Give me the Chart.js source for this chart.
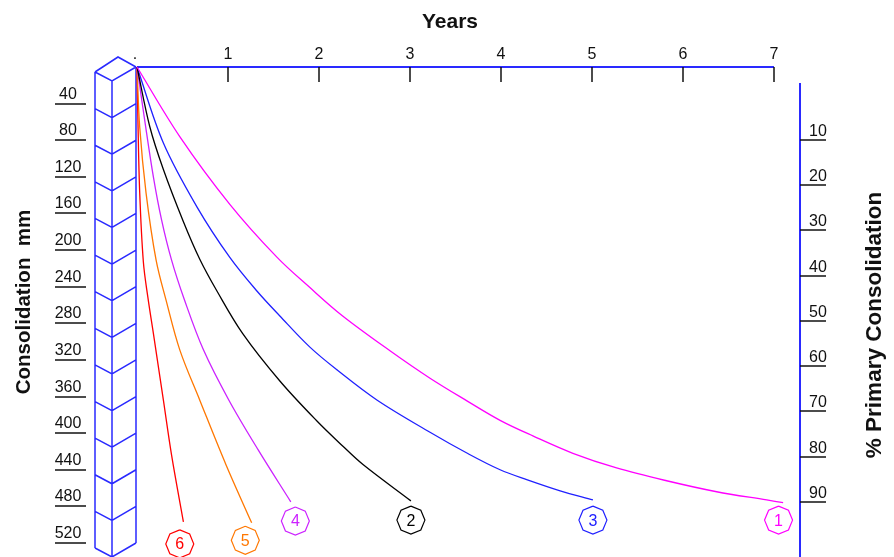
<!DOCTYPE html>
<html>
<head>
<meta charset="utf-8">
<script src="https://cdn.jsdelivr.net/npm/chart.js@4"></script>
<style>
  body { margin: 0; background: #fff; }
  canvas { display: block; }
</style>
</head>
<body>
<canvas id="consol" width="894" height="557"></canvas>
<script>
// tick labels
const yearTicks = [0, 1, 2, 3, 4, 5, 6, 7];
const yearLabels = ['.', '1', '2', '3', '4', '5', '6', '7'];
const mmTicks = [40, 80, 120, 160, 200, 240, 280, 320, 360, 400, 440, 480, 520];
const columnLevels = [0, 40, 80, 120, 160, 200, 240, 280, 320, 360, 400, 440, 480, 520];
const pctTicks = [10, 20, 30, 40, 50, 60, 70, 80, 90];

// curves: years vs consolidation (mm)
const c1Years = [0, 0.47, 1.02, 1.54, 1.90, 2.26, 2.78, 3.22, 3.63, 3.99, 4.35, 4.79, 5.27, 5.82, 6.37, 6.92, 7.10];
const c1Mm    = [0, 76, 150, 208, 241, 272, 310, 340, 365, 386, 403, 422, 438, 452, 464, 473, 476];
const c2Years = [0, 0.14, 0.29, 0.51, 0.69, 0.88, 1.16, 1.57, 1.98, 2.26, 2.48, 3.01];
const c2Mm    = [0, 65, 112, 169, 210, 245, 291, 343, 387, 414, 434, 474];
const c3Years = [0, 0.29, 0.66, 1.02, 1.32, 1.57, 1.90, 2.20, 2.64, 3.22, 3.63, 3.99, 4.29, 4.65, 5.01];
const c3Mm    = [0, 83, 153, 208, 245, 272, 306, 331, 364, 399, 422, 440, 451, 463, 473];
const c4Years = [0, 0.08, 0.18, 0.27, 0.38, 0.52, 0.73, 1.01, 1.33, 1.69];
const c4Mm    = [0, 55, 120, 167, 211, 254, 309, 364, 418, 475];
const c5Years = [0, 0.03, 0.10, 0.21, 0.32, 0.47, 0.69, 0.98, 1.26];
const c5Mm    = [0, 66, 138, 211, 255, 309, 364, 435, 498];
const c6Years = [0, 0.01, 0.03, 0.07, 0.12, 0.18, 0.29, 0.38, 0.51];
const c6Mm    = [0, 58, 138, 213, 252, 291, 364, 424, 497];

// circled curve labels
const labelText  = ['1', '2', '3', '4', '5', '6'];
const labelYears = [7.05, 3.01, 5.01, 1.74, 1.19, 0.47];
const labelMm    = [495, 495, 495, 496, 517, 521];
const curveColors = ['#ff00ff', '#000000', '#2020ff', '#cc22ff', '#ff7700', '#ff0000'];

const AXIS_BLUE = '#2a2aff';

function pts(xs, ys) { return xs.map((x, i) => ({ x: x, y: ys[i] })); }
const curves = [pts(c1Years, c1Mm), pts(c2Years, c2Mm), pts(c3Years, c3Mm),
                pts(c4Years, c4Mm), pts(c5Years, c5Mm), pts(c6Years, c6Mm)];

const decor = {
  id: 'decor',
  beforeDatasetsDraw(chart) {
    const ctx = chart.ctx;
    const xs = chart.scales.x, ys = chart.scales.y, ps = chart.scales.y2;
    const x0 = xs.getPixelForValue(0);
    const yTop = ys.getPixelForValue(0);
    ctx.save();

    // top years axis
    ctx.strokeStyle = AXIS_BLUE; ctx.lineWidth = 2;
    ctx.beginPath(); ctx.moveTo(x0, yTop); ctx.lineTo(xs.getPixelForValue(7), yTop); ctx.stroke();
    ctx.strokeStyle = '#111'; ctx.lineWidth = 1.5;
    ctx.fillStyle = '#111'; ctx.font = '16px "Liberation Sans", Arial, sans-serif';
    ctx.textAlign = 'center'; ctx.textBaseline = 'alphabetic';
    yearTicks.forEach((v, i) => {
      const px = Math.round(xs.getPixelForValue(v));
      if (v > 0) { ctx.beginPath(); ctx.moveTo(px, yTop); ctx.lineTo(px, yTop + 15); ctx.stroke(); }
      ctx.fillText(yearLabels[i], px - (v === 0 ? 2 : 0), 59);
    });
    ctx.font = 'bold 21px "Liberation Sans", Arial, sans-serif';
    ctx.fillText('Years', 450, 28);

    // right % axis
    const xr = 800;
    ctx.strokeStyle = AXIS_BLUE; ctx.lineWidth = 2;
    ctx.beginPath(); ctx.moveTo(xr, 83); ctx.lineTo(xr, chart.height); ctx.stroke();
    ctx.strokeStyle = '#111'; ctx.lineWidth = 1.5;
    ctx.font = '16px "Liberation Sans", Arial, sans-serif';
    ctx.textAlign = 'left';
    pctTicks.forEach(v => {
      const py = Math.round(ps.getPixelForValue(v));
      ctx.beginPath(); ctx.moveTo(xr, py); ctx.lineTo(xr + 26, py); ctx.stroke();
      ctx.fillText(String(v), xr + 9, py - 4);
    });

    // left mm labels
    ctx.textAlign = 'center';
    ctx.font = '16px "Liberation Sans", Arial, sans-serif';
    mmTicks.forEach(v => {
      const py = Math.round(ys.getPixelForValue(v));
      ctx.beginPath(); ctx.moveTo(55, py); ctx.lineTo(86, py); ctx.stroke();
      ctx.fillText(String(v), 68, py - 5);
    });

    // 3D column
    const xl = x0 - 42, xm = x0 - 25, xc = x0 - 1;
    ctx.strokeStyle = AXIS_BLUE; ctx.lineWidth = 1.5;
    const yBot = ys.getPixelForValue(520);
    ctx.beginPath();
    ctx.moveTo(xl, yTop + 5); ctx.lineTo(xl, yBot + 5);
    ctx.moveTo(xm, yTop + 14); ctx.lineTo(xm, yBot + 14);
    ctx.moveTo(xc, yTop); ctx.lineTo(xc, yBot);
    ctx.moveTo(xl, yTop + 5); ctx.lineTo(x0 - 19, yTop - 10); ctx.lineTo(xc, yTop);
    columnLevels.forEach(v => {
      const py = ys.getPixelForValue(v);
      ctx.moveTo(xl, py + 5); ctx.lineTo(xm, py + 14); ctx.lineTo(xc, py);
    });
    ctx.stroke();

    // axis titles
    ctx.fillStyle = '#111';
    ctx.textAlign = 'center'; ctx.textBaseline = 'middle';
    ctx.save();
    ctx.translate(24, 302); ctx.rotate(-Math.PI / 2);
    ctx.font = 'bold 20.5px "Liberation Sans", Arial, sans-serif';
    ctx.fillText('Consolidation  mm', 0, 0);
    ctx.restore();
    ctx.save();
    ctx.translate(875, 325); ctx.rotate(-Math.PI / 2);
    ctx.font = 'bold 22.5px "Liberation Sans", Arial, sans-serif';
    ctx.fillText('% Primary Consolidation', 0, 0);
    ctx.restore();

    ctx.restore();
  },
  afterDatasetsDraw(chart) {
    const ctx = chart.ctx;
    const xs = chart.scales.x, ys = chart.scales.y;
    ctx.save();
    ctx.lineWidth = 1.2;
    ctx.font = '16px "Liberation Sans", Arial, sans-serif';
    ctx.textAlign = 'center'; ctx.textBaseline = 'middle';
    labelText.forEach((t, i) => {
      const cx = xs.getPixelForValue(labelYears[i]);
      const cy = ys.getPixelForValue(labelMm[i]);
      const r = 14;
      ctx.strokeStyle = curveColors[i]; ctx.fillStyle = curveColors[i];
      ctx.beginPath();
      for (let k = 0; k <= 8; k++) {
        const a = -Math.PI / 2 + k * Math.PI / 4;
        const px = cx + r * Math.cos(a), py = cy + r * Math.sin(a);
        if (k === 0) ctx.moveTo(px, py); else ctx.lineTo(px, py);
      }
      ctx.stroke();
      ctx.fillText(t, cx, cy + 1);
    });
    ctx.restore();
  }
};

new Chart(document.getElementById('consol').getContext('2d'), {
  type: 'line',
  data: {
    datasets: curves.map((d, i) => ({
      label: 'Curve ' + labelText[i],
      data: d,
      borderColor: curveColors[i],
      borderWidth: 1.3,
      pointRadius: 0,
      fill: false,
      tension: 0.35,
      clip: false
    }))
  },
  options: {
    responsive: false,
    animation: false,
    layout: { padding: { left: 137, top: 67, right: 120, bottom: 14 } },
    plugins: { legend: { display: false }, tooltip: { enabled: false } },
    scales: {
      x: { type: 'linear', min: 0, max: 7, display: false },
      y: { type: 'linear', min: 0, max: 520, reverse: true, display: false },
      y2: { type: 'linear', min: -6.13, max: 99.06, reverse: true, display: false }
    }
  },
  plugins: [decor]
});
</script>
</body>
</html>
